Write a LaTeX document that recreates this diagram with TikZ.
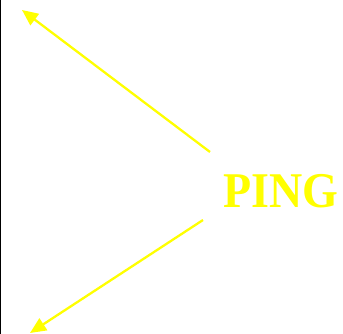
\documentclass[tikz,border=0pt]{standalone}
\usepackage{fontspec}
\setmainfont{Liberation Serif}
\usepackage{xcolor}
\usepackage{tikz}
\usetikzlibrary{arrows.meta,positioning}
\definecolor{pingyel}{RGB}{255,255,0}
\tikzset{
  pingtxt/.style={text=pingyel, font=\fontsize{50}{54}\selectfont\bfseries, inner sep=0pt, xscale=0.92},
  parr/.style={-{Triangle[length=16pt,width=14pt]}, draw=pingyel, line width=2.3pt},
  edge/.style={draw=black, line width=1.2pt}
}
\begin{document}
\begin{tikzpicture}[x=1pt,y=1pt]
  \useasboundingbox (0,0) rectangle (343,334);
  \fill[white] (0,0) rectangle (343,334);
  \draw[edge] (0.6,0) -- (0.6,334);
  \node[pingtxt, anchor=base] (ping) at (280.5,126) {PING};
  \coordinate (fromup) at (210,182);
  \coordinate (fromdn) at (203,114);
  \coordinate (tipup) at (22,324);
  \coordinate (tipdn) at (30,1);
  \draw[parr] (fromup) -- (tipup);
  \draw[parr] (fromdn) -- (tipdn);
\end{tikzpicture}
\end{document}
